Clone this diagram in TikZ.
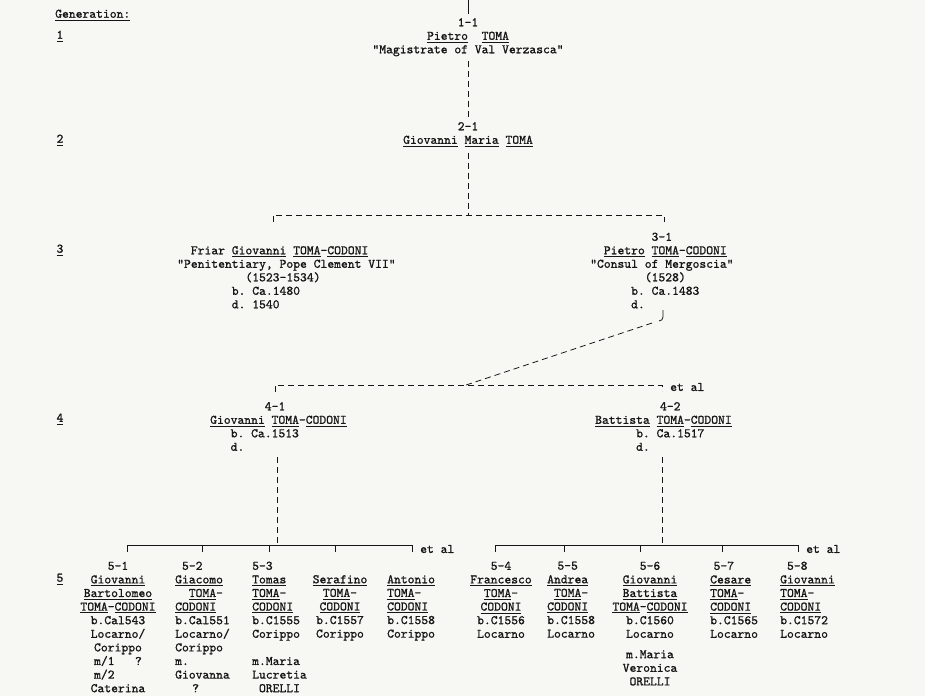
\documentclass[tikz,border=0pt]{standalone}
\usepackage{fontspec}
\setmonofont{lmmono10-regular.otf}[FakeBold=1]
\usetikzlibrary{positioning}
\definecolor{paper}{RGB}{247,247,244}
\definecolor{ink}{RGB}{22,22,22}
\newcommand\undl[1]{\setbox0\hbox{#1}\rlap{\rule[-2.6pt]{\wd0}{0.7pt}}\box0\relax}
\newcommand\pad[1]{\hspace*{#1\fontdimen2\font}}
\begin{document}
\frenchspacing
\begin{tikzpicture}[x=1pt,y=-1pt,
	every node/.style={font=\ttfamily\fontsize{13}{13.5}\selectfont,text=ink,inner sep=0pt},
	person/.style={align=center,anchor=north},
	personl/.style={align=left,anchor=north west},
	kid/.style={align=center,anchor=north,font=\ttfamily\fontsize{13}{13.6}\selectfont},
	kidl/.style={kid,align=left,anchor=north west},
	link/.style={draw=ink,line width=0.8pt,dash pattern=on 6pt off 4pt},
	bar/.style={draw=ink,line width=0.8pt}]
	\fill[paper] (0,0) rectangle (925,696);
	\useasboundingbox (0,0) rectangle (925,696);

	\node[anchor=west] (gen) at (55,15) {\undl{Generation:}};
	\node (g1) at (60,36) {\undl{1}};
	\node (g2) at (60,140) {\undl{2}};
	\node (g3) at (60,250) {\undl{3}};
	\node (g4) at (60,419) {\undl{4}};
	\node (g5) at (60,579) {\undl{5}};

	\node[person] (p11) at (468,18) {1-1\\\undl{Pietro}~~\undl{TOMA}\\"Magistrate of Val Verzasca"};
	\node[person] (p21) at (468,122) {2-1\\\undl{Giovanni} \undl{Maria} \undl{TOMA}};

	\node[personl] (p32) at (177,246) {\pad{2}Friar \undl{Giovanni} \undl{TOMA}-\undl{CODONI}\\"Penitentiary, Pope Clement VII"\\\pad{10}(1523-1534)\\\pad{8}b. Ca.1480\\\pad{8}d. 1540};
	\node[personl] (p31) at (590,232.5) {\pad{9}3-1\\\pad{2}\undl{Pietro} \undl{TOMA}-\undl{CODONI}\\"Consul of Mergoscia"\\\pad{8}(1528)\\\pad{6}b. Ca.1483\\\pad{6}d.};

	\node[personl] (p41) at (210,402) {\pad{8}4-1\\\undl{Giovanni} \undl{TOMA}-\undl{CODONI}\\\pad{3}b. Ca.1513\\\pad{3}d.};
	\node[personl] (p42) at (595,402) {\pad{9.5}4-2\\\undl{Battista} \undl{TOMA}-\undl{CODONI}\\\pad{6}b. Ca.1517\\\pad{6}d.};

	\node[kid] (c1) at (118,561.5) {5-1\\\undl{Giovanni}\\\undl{Bartolomeo}\\\undl{TOMA}-\undl{CODONI}\\b.Cal543\\Locarno/\\Corippo\\m/1~~~?\\m/2\hphantom{~~~?}\\Caterina};
	\node[kidl] (c2) at (175,561.5) {\pad{1}5-2\\\undl{Giacomo}\\\pad{2}\undl{TOMA}-\\\undl{CODONI}\\b.Cal551\\Locarno/\\Corippo\\m.\\Giovanna\\\pad{2.5}?};
	\node[kidl] (c3) at (252,561.5) {5-3\\\undl{Tomas}\\\undl{TOMA}-\\\undl{CODONI}\\b.C1555\\Corippo\\\mbox{}\\m.Maria\\Lucretia\\\pad{1}ORELLI};
	\node[kid] (c4) at (340,561.5) {\vphantom{5}\\\undl{Serafino}\\\undl{TOMA}-\\\undl{CODONI}\\b.C1557\\Corippo};
	\node[kidl] (c5) at (387,561.5) {\vphantom{5}\\\undl{Antonio}\\\undl{TOMA}-\\\undl{CODONI}\\b.C1558\\Corippo};
	\node[kid] (c6) at (501,561.5) {5-4\\\undl{Francesco}\\\undl{TOMA}-\\\undl{CODONI}\\b.C1556\\Locarno};
	\node[kidl] (c7) at (547,561.5) {\pad{1.5}5-5\\\undl{Andrea}\\\pad{1}\undl{TOMA}-\\\undl{CODONI}\\b.C1558\\Locarno};
	\node[kid] (c8) at (650,561.5) {5-6\\\undl{Giovanni}\\\undl{Battista}\\\undl{TOMA}-\undl{CODONI}\\b.C1560\\Locarno\\[6.8pt]m.Maria\\Veronica\\ORELLI};
	\node[kidl] (c9) at (710,561.5) {\pad{0.5}5-7\\\undl{Cesare}\\\undl{TOMA}-\\\undl{CODONI}\\b.C1565\\Locarno};
	\node[kidl] (c10) at (780,561.5) {\pad{1}5-8\\\undl{Giovanni}\\\undl{TOMA}-\\\undl{CODONI}\\b.C1572\\Locarno};

	\coordinate (top) at (468,0);
	\coordinate (j3) at (468,215);
	\coordinate (b3l) at (273,215);
	\coordinate (b3r) at (664,215);
	\coordinate (j31) at (663,310);
	\coordinate (d31) at (652,323);
	\coordinate (j4) at (466,385);
	\coordinate (b4l) at (275,385);
	\coordinate (b4r) at (662,385);
	\coordinate (v41) at (277,457);
	\coordinate (v42) at (662,457);
	\foreach \x [count=\i] in {127,202,269,335,412,495,564,640,722,798}
		\coordinate (t\i) at (\x,545);

	\draw[bar] (top) -- ++(0,14);
	\draw[link] ([yshift=-5pt]p11.south) -- ([yshift=4pt]p21.north);
	\draw[link] ([yshift=-6pt]p21.south) -- (j3);
	\draw[link] ([yshift=-7pt]b3l) -- (b3l) -- (b3r) -- ([yshift=-7pt]b3r);
	\draw[bar] (j31) -- ++(0,7) to[out=-90,in=0] ++(-4,4);
	\draw[link] (d31) -- (j4);
	\draw[link] ([yshift=-7pt]b4l) -- (b4l) -- (b4r) -- ([yshift=-6pt]b4r);
	\node[right=8pt of b4r,yshift=-2pt] (al4) {et al};

	\draw[link] (v41) -- (v41 |- t1);
	\draw[link] (v42) -- (v42 |- t6);
	\draw[bar] (t1) -- (t5);
	\draw[bar] (t6) -- (t10);
	\foreach \i in {1,...,10}
		\draw[bar] (t\i) -- ++(0,7);
	\node[right=8pt of t5,yshift=-4pt] (al5a) {et al};
	\node[right=8pt of t10,yshift=-4pt] (al5b) {et al};
\end{tikzpicture}
\end{document}
